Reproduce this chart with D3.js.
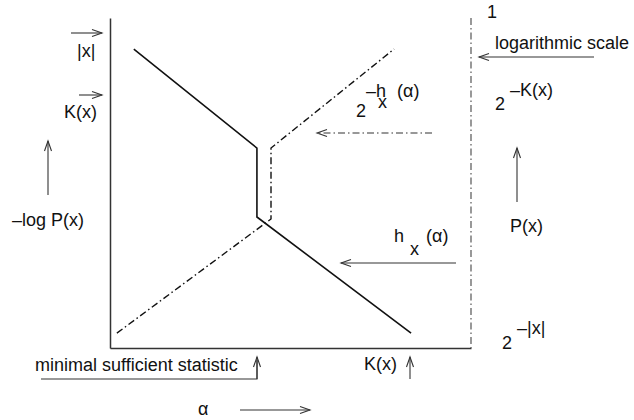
<!DOCTYPE html>
<html>
<head>
<meta charset="utf-8">
<script src="https://cdn.jsdelivr.net/npm/d3@7/dist/d3.min.js"></script>
<style>
  html, body { margin: 0; padding: 0; background: #fff; }
  svg text { font-family: "Liberation Sans", Arial, Helvetica, sans-serif; font-size: 18px; fill: #111; }
</style>
</head>
<body>
<svg id="chart" width="634" height="420"></svg>
<script>
// Structure function sketch: alpha on the horizontal axis, code length / probability vertically.
// Solid curve: h_x(alpha); dash-dot curve: 2^{-h_x(alpha)} on a log scale.
const alphaSolid = [6.6, 40.7, 40.7, 83.4];
const valueSolid = [90.6, 60.6, 39.7, 4.5];
const alphaDashed = [1.9, 44.6, 44.6, 78.7];
const valueDashed = [4.5, 39.1, 60.6, 90.6];

const svg = d3.select("#chart");
const x = d3.scaleLinear().domain([0, 100]).range([110, 471]);
const y = d3.scaleLinear().domain([0, 100]).range([348, 18]);

const DASHDOT = "7,3,1.5,3";

// axes (no ticks)
svg.append("g").attr("transform", `translate(${x(0)},0)`)
  .call(d3.axisLeft(y).tickValues([]).tickSizeOuter(0))
  .select(".domain").attr("stroke", "#333").attr("stroke-width", 1.5);
svg.append("g").attr("transform", `translate(0,${y(0)})`)
  .call(d3.axisBottom(x).tickValues([]).tickSizeOuter(0))
  .select(".domain").attr("stroke", "#333").attr("stroke-width", 1.5);

// right-hand log-scale boundary
svg.append("line")
  .attr("x1", x(100)).attr("x2", x(100)).attr("y1", y(100)).attr("y2", y(0))
  .attr("stroke", "#555").attr("stroke-width", 1.2).attr("stroke-dasharray", DASHDOT);

const line = d3.line().x(d => x(d[0])).y(d => y(d[1]));

svg.append("path")
  .datum(d3.zip(alphaSolid, valueSolid))
  .attr("d", line).attr("fill", "none").attr("stroke", "#111").attr("stroke-width", 1.6);

svg.append("path")
  .datum(d3.zip(alphaDashed, valueDashed))
  .attr("d", line).attr("fill", "none").attr("stroke", "#111").attr("stroke-width", 1.4)
  .attr("stroke-dasharray", DASHDOT);

// open-headed arrow from (x1,y1) to (x2,y2)
function arrow(x1, y1, x2, y2, dash) {
  const g = svg.append("g").attr("stroke", "#333").attr("stroke-width", 1.1).attr("fill", "none");
  const ln = g.append("line").attr("x1", x1).attr("y1", y1).attr("x2", x2).attr("y2", y2);
  if (dash) ln.attr("stroke-dasharray", dash);
  const a = Math.atan2(y2 - y1, x2 - x1), L = 10, W = 3.5;
  const bx = x2 - L * Math.cos(a), by = y2 - L * Math.sin(a);
  const px = -Math.sin(a) * W, py = Math.cos(a) * W;
  g.append("path").attr("d", `M${bx + px},${by + py}L${x2},${y2}L${bx - px},${by - py}`);
}

function label(tx, ty, s) {
  return svg.append("text").attr("x", tx).attr("y", ty).text(s);
}

// one text made of separately positioned pieces: [string, x, y]
function pieces(parts) {
  const t = svg.append("text");
  parts.forEach(([s, px, py]) => t.append("tspan").attr("x", px).attr("y", py).text(s));
  return t;
}

// left side
arrow(71, 33, 102, 33);
label(77, 57, "|x|");
arrow(79, 95, 102, 95);
label(64, 118, "K(x)");
arrow(48, 195, 48, 141);
label(12, 226, "–log P(x)");

// right side
label(487, 18, "1");
label(495, 49, "logarithmic scale");
arrow(594, 57, 479, 57);
label(495, 110, "2");
label(510, 96, "–K(x)");
arrow(517, 202, 517, 148);
label(510, 232, "P(x)");
label(502, 349, "2");
label(517, 334, "–|x|");

// curve annotations
label(356, 117, "2");
pieces([["–h", 366, 97], ["x", 378, 108], ["(α)", 397, 97]]);
arrow(432, 133, 317, 133, DASHDOT);

pieces([["h", 394, 242], ["x", 410, 255], ["(α)", 426, 242]]);
arrow(456, 263, 341, 263);

// bottom
label(35, 371, "minimal sufficient statistic");
svg.append("path").attr("d", "M41,379H257V360").attr("fill", "none").attr("stroke", "#333").attr("stroke-width", 1.1);
arrow(257, 379, 257, 357);
label(364, 370, "K(x)");
arrow(410, 379, 410, 357);
label(198, 415, "α");
arrow(240, 410, 310, 410);
</script>
</body>
</html>
